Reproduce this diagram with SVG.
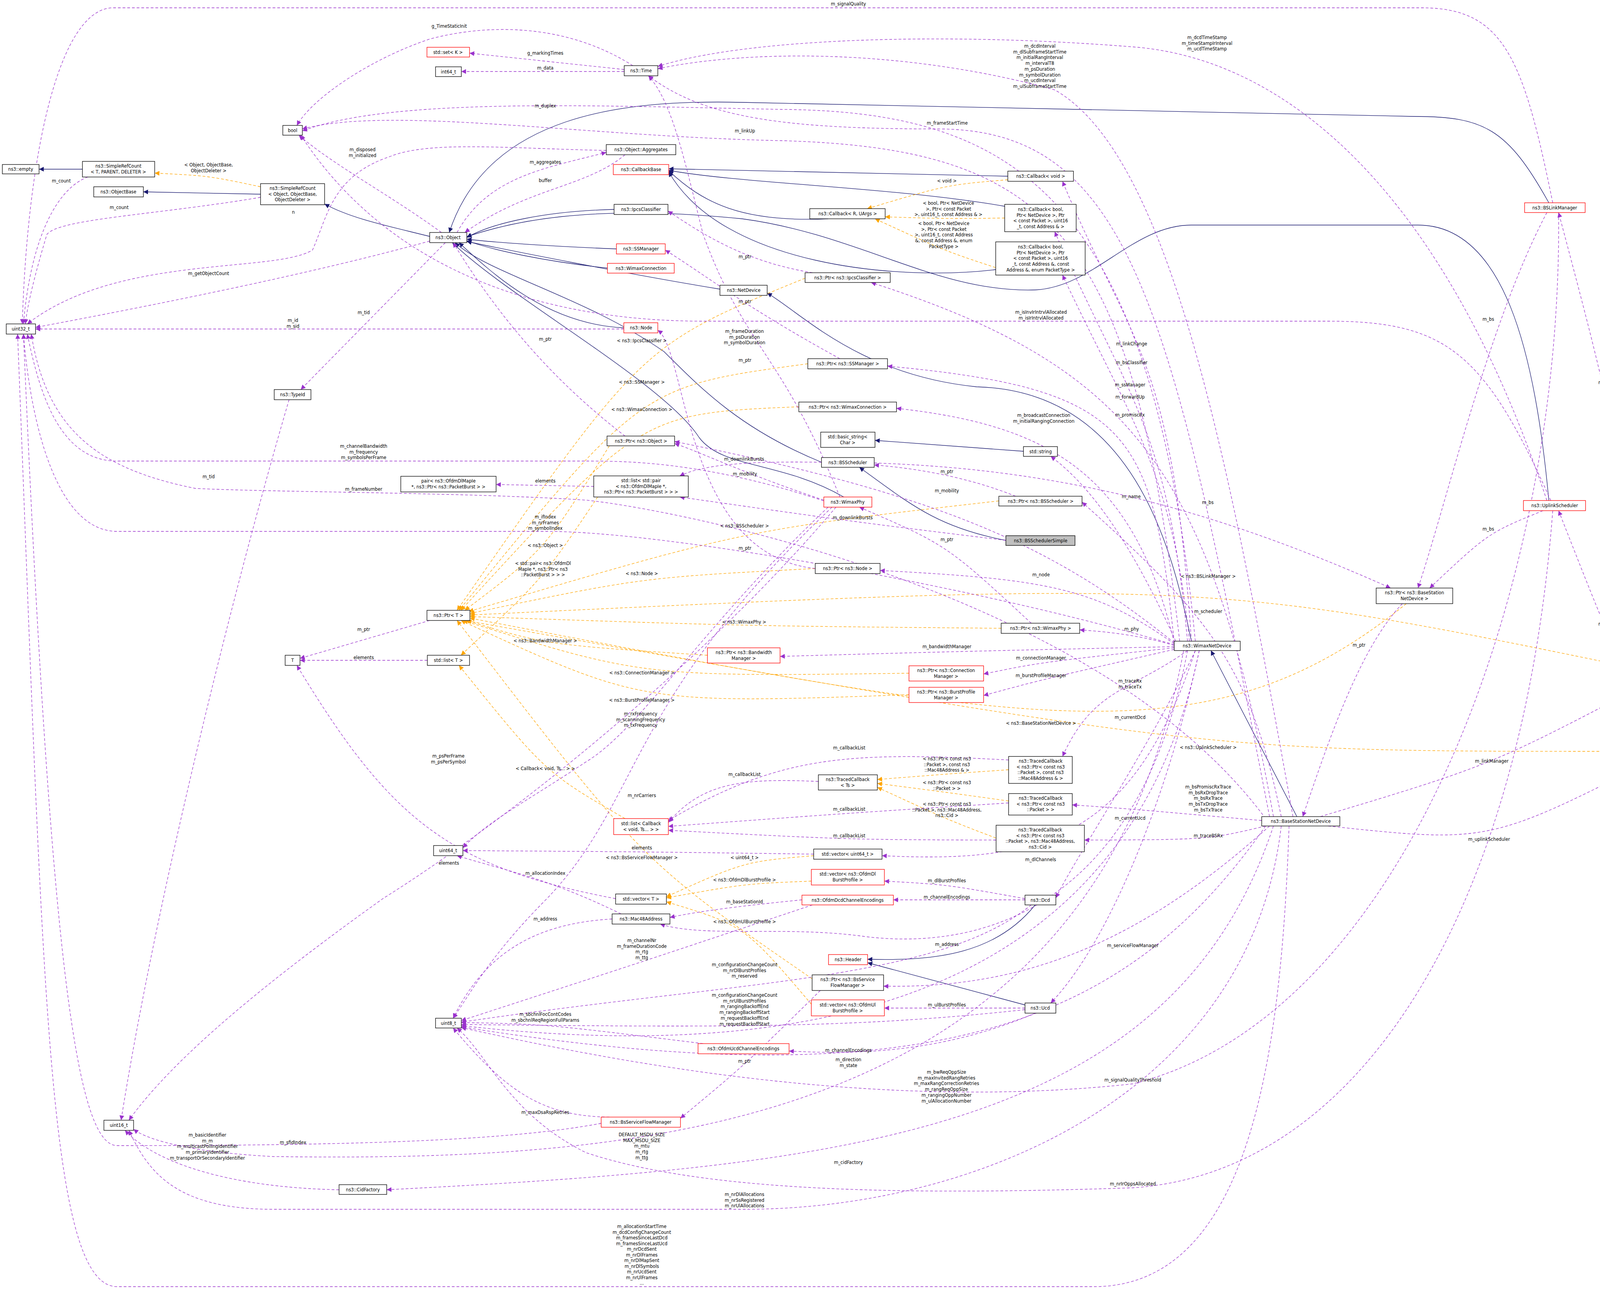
<svg xmlns="http://www.w3.org/2000/svg" width="4387" height="3299" viewBox="0 0 4387 3299">
<style>
text{font-family:"DejaVu Sans Condensed","Liberation Sans",sans-serif;font-size:12.5px;fill:#000}
.nd rect{fill:#fff;stroke:#000;stroke-width:1.3}
.nd.r rect{stroke:#f00}
.nd.g rect{fill:#bfbfbf}
.nd text{text-anchor:middle}
.e path{fill:none;stroke-width:1.3}
.u{stroke:#9a32cd;stroke-dasharray:7,5;marker-end:url(#mu)}
.o{stroke:#ffa500;stroke-dasharray:7,5;marker-end:url(#mo)}
.i{stroke:#191970;marker-end:url(#mi)}
.lb text{text-anchor:middle}
</style>
<defs>
<marker id="mu" viewBox="0 0 10 10" refX="10" refY="5" markerWidth="14" markerHeight="12" markerUnits="userSpaceOnUse" orient="auto"><path d="M0,0L10,5L0,10z" fill="#9a32cd"/></marker>
<marker id="mo" viewBox="0 0 10 10" refX="10" refY="5" markerWidth="14" markerHeight="12" markerUnits="userSpaceOnUse" orient="auto"><path d="M0,0L10,5L0,10z" fill="#ffa500"/></marker>
<marker id="mi" viewBox="0 0 10 10" refX="10" refY="5" markerWidth="14" markerHeight="12" markerUnits="userSpaceOnUse" orient="auto"><path d="M0,0L10,5L0,10z" fill="#191970"/></marker>
</defs>
<rect width="4387" height="3299" fill="#fff"/>
<g id="edges" class="e">
<path class="i" d="M211,433 L100,433"/>
<path class="i" d="M667,497 L367,491"/>
<path class="i" d="M1100,605 C1000,580 900,560 831,522"/>
<path class="i" d="M3965,519 C3860,330 3800,298 3620,298 L1900,262 C1600,255 1250,290 1150,595"/>
<path class="i" d="M3965,1281 C3930,900 3850,576 3630,576 L3050,576 C2900,576 2800,735 2650,742 C2400,750 2200,600 1900,560 C1500,520 1300,570 1195,606"/>
<path class="i" d="M1572,536 C1400,540 1260,570 1195,608"/>
<path class="i" d="M1578,637 C1400,630 1260,620 1195,612"/>
<path class="i" d="M1555,686 C1400,670 1260,640 1195,616"/>
<path class="i" d="M1597,839 C1400,830 1260,700 1175,621"/>
<path class="i" d="M1843,740 C1600,700 1300,640 1195,618"/>
<path class="i" d="M2103,1183 C1900,1100 1800,1000 1700,900 C1500,760 1250,700 1165,621"/>
<path class="i" d="M2160,1272 C2000,1180 1850,1200 1790,1120 C1700,980 1300,760 1158,621"/>
<path class="i" d="M2580,451 L1712,432"/>
<path class="i" d="M2120,560 C1900,570 1800,520 1712,437"/>
<path class="i" d="M2572,528 C2300,480 1900,470 1712,436"/>
<path class="i" d="M2549,690 C2300,720 1850,680 1712,440"/>
<path class="i" d="M3050,1641 C3000,1400 2900,1000 2500,990 C2200,960 2050,800 1964,750"/>
<path class="i" d="M3320,2090 L3100,1665"/>
<path class="i" d="M2620,1155 L2240,1127"/>
<path class="i" d="M2575,1383 C2400,1350 2330,1290 2200,1196"/>
<path class="i" d="M2650,2316 C2550,2440 2400,2460 2221,2455"/>
<path class="i" d="M2624,2572 L2221,2464"/>
<path class="o" d="M667,478 C534,450 534,450 396,443"/>
<path class="o" d="M2580,460 C2424,473 2424,473 2220,534"/>
<path class="o" d="M2572,558 C2428,560 2428,560 2266,555"/>
<path class="o" d="M2549,685 C2416,641 2416,641 2240,560"/>
<path class="o" d="M2061,712 C1643,882 1643,882 1170,1562"/>
<path class="o" d="M2068,931 C1643,988 1643,988 1175,1562"/>
<path class="o" d="M2045,1041 C1643,1058 1643,1058 1180,1562"/>
<path class="o" d="M1560,1141 C1396,1406 1396,1406 1190,1562"/>
<path class="o" d="M2557,1282 C1906,1356 1906,1356 1200,1565"/>
<path class="o" d="M2087,1455 C1643,1478 1643,1478 1203,1570"/>
<path class="o" d="M2563,1608 C1905,1602 1905,1602 1203,1578"/>
<path class="o" d="M1811,1677 C1396,1650 1396,1650 1195,1588"/>
<path class="o" d="M2327,1723 C1643,1732 1643,1732 1185,1588"/>
<path class="o" d="M2327,1778 C1643,1802 1643,1802 1180,1588"/>
<path class="o" d="M3600,1545 C3100,1950 2665,1861 1203,1582"/>
<path class="o" d="M4205,1714 C3093,1485 3093,1485 1203,1574"/>
<path class="o" d="M4142,1923 C3093,1923 3093,1923 1190,1588"/>
<path class="o" d="M2079,2505 C1643,2205 1643,2205 1170,1588"/>
<path class="o" d="M1530,1272 C1390,1481 1390,1481 1180,1677"/>
<path class="o" d="M1600,2095 C1396,1977 1396,1977 1175,1703"/>
<path class="o" d="M2083,2190 C1906,2205 1906,2205 1706,2295"/>
<path class="o" d="M2077,2255 C1906,2262 1906,2262 1706,2298"/>
<path class="o" d="M2077,2570 C1906,2369 1906,2369 1706,2308"/>
<path class="o" d="M2582,1970 C2424,1981 2424,1981 2246,1995"/>
<path class="o" d="M2582,2050 C2424,2028 2424,2028 2246,2005"/>
<path class="o" d="M2550,2145 C2424,2097 2424,2097 2246,2015"/>
<path class="u" d="M3975,519 C3900,150 3850,20 3640,20 L290,20 C150,20 70,400 57,829"/>
<path class="u" d="M1620,168 C1450,60 1250,60 1100,100 C950,150 800,250 760,321"/>
<path class="u" d="M1598,178 L1202,136"/>
<path class="u" d="M1598,183 L1181,183"/>
<path class="u" d="M3310,2090 C3150,1200 3000,400 2700,230 C2300,120 1900,130 1684,176"/>
<path class="u" d="M3960,1281 C3700,500 3300,150 2900,120 C2400,80 1900,100 1684,170"/>
<path class="u" d="M3250,2090 C3000,800 2900,330 2400,330 C2000,330 1800,300 1660,194"/>
<path class="u" d="M3020,1641 C2900,600 2700,380 2000,360 C1500,350 1000,270 774,330"/>
<path class="u" d="M3060,1641 C2950,500 2600,285 2000,280 C1500,270 1000,250 774,335"/>
<path class="u" d="M1130,595 C1000,500 850,420 765,346"/>
<path class="u" d="M1552,385 C1300,380 1100,360 1000,400 C850,450 840,550 800,640 C700,700 300,650 70,829"/>
<path class="u" d="M225,453 C150,480 80,600 60,829"/>
<path class="u" d="M667,505 C400,550 150,560 120,600 C90,700 70,780 65,829"/>
<path class="u" d="M1100,617 C800,700 400,780 91,838"/>
<path class="u" d="M1170,595 C1250,450 1400,430 1552,390"/>
<path class="u" d="M1600,396 C1500,480 1350,480 1190,595"/>
<path class="u" d="M1140,621 L770,997"/>
<path class="u" d="M1597,842 L91,842"/>
<path class="u" d="M1600,1116 C1450,1000 1300,850 1160,621"/>
<path class="u" d="M1100,1588 L768,1685"/>
<path class="u" d="M1094,1690 L768,1690"/>
<path class="u" d="M740,1023 C600,1500 400,2300 310,2867"/>
<path class="u" d="M1520,1245 L1270,1240"/>
<path class="u" d="M2109,1282 C1800,1180 1600,1180 1500,1180 L300,1180 C150,1180 100,1000 70,855"/>
<path class="u" d="M3240,2095 C2800,1500 1700,1300 1500,1280 C1200,1260 700,1260 500,1250 C250,1200 120,1100 80,855"/>
<path class="u" d="M3006,1650 C2500,1500 1700,1360 1400,1360 L300,1360 C150,1360 80,1100 60,855"/>
<path class="u" d="M2140,1298 C1800,1700 1300,2100 980,2300 C700,2500 450,2700 330,2867"/>
<path class="u" d="M2103,1183 C1900,1180 1800,1190 1740,1218"/>
<path class="u" d="M2109,1280 C1900,1210 1800,1160 1727,1135"/>
<path class="u" d="M2600,1270 C2450,1210 2300,1195 2238,1190"/>
<path class="u" d="M3006,1645 C2700,1400 2424,1270 1727,1130"/>
<path class="u" d="M3010,1641 C2900,1400 2800,1250 2690,1168"/>
<path class="u" d="M2575,1383 C2183,1335 2183,1335 1740,1272"/>
<path class="u" d="M2640,1595 C2424,1395 2424,1395 2200,1298"/>
<path class="u" d="M2087,1455 C1750,1420 1760,900 1684,845"/>
<path class="u" d="M3006,1648 C2800,1500 2665,1482 2253,1460"/>
<path class="u" d="M3006,1652 C2900,1620 2800,1615 2764,1612"/>
<path class="u" d="M3006,1655 C2424,1668 2424,1668 1997,1680"/>
<path class="u" d="M3006,1658 C2665,1695 2665,1695 2518,1725"/>
<path class="u" d="M3006,1662 C2665,1740 2665,1740 2518,1780"/>
<path class="u" d="M3040,1665 C2893,1770 2800,1760 2720,1936"/>
<path class="u" d="M3060,1665 C2950,1900 2750,2200 2703,2298"/>
<path class="u" d="M3070,1665 C3000,2000 2850,2400 2690,2567"/>
<path class="u" d="M2582,1945 C2174,1924 2000,1930 1711,2100"/>
<path class="u" d="M2095,2000 C1906,1992 1800,2000 1711,2105"/>
<path class="u" d="M2582,2055 C2174,2081 2174,2081 1711,2115"/>
<path class="u" d="M2550,2150 C2174,2149 2174,2149 1711,2125"/>
<path class="u" d="M2120,1298 C1800,1600 1640,1866 1500,1950 C1350,2050 1250,2100 1185,2170"/>
<path class="u" d="M2130,1298 C1600,1800 1643,2046 1400,2300 C1250,2450 1200,2550 1160,2606"/>
<path class="u" d="M2083,2186 C1643,2180 1643,2180 1185,2177"/>
<path class="u" d="M1576,2300 C1149,2219 1000,2100 760,1703"/>
<path class="u" d="M1590,2339 C1396,2245 1300,2230 1170,2190"/>
<path class="u" d="M1567,2352 C1396,2362 1250,2420 1160,2606"/>
<path class="u" d="M2053,2303 C1906,2318 1800,2330 1715,2348"/>
<path class="u" d="M2624,2300 C2424,2264 2424,2264 2264,2255"/>
<path class="u" d="M2624,2303 L2287,2303"/>
<path class="u" d="M2080,2316 C1643,2462 1643,2462 1181,2612"/>
<path class="u" d="M3040,1665 C2900,2400 2424,2427 2200,2395 C2000,2370 1800,2400 1690,2365"/>
<path class="u" d="M2640,2316 C2400,2510 1906,2509 1181,2616"/>
<path class="u" d="M2624,2584 C2200,2630 1906,2630 1181,2622"/>
<path class="u" d="M3250,2114 C2900,2430 2600,2530 2262,2524"/>
<path class="u" d="M2624,2580 L2264,2580"/>
<path class="u" d="M2650,2593 C2400,2700 2172,2698 2020,2690"/>
<path class="u" d="M2100,2535 C1906,2726 1906,2726 1742,2862"/>
<path class="u" d="M3070,1665 C2900,2500 2172,2737 1181,2625"/>
<path class="u" d="M3240,2114 C2900,2600 2423,2827 1181,2628"/>
<path class="u" d="M3990,544 C4000,1500 3600,2600 2900,2774 C2200,2850 1500,2700 1181,2630"/>
<path class="u" d="M1800,2671 C1396,2621 1396,2621 1181,2617"/>
<path class="u" d="M1560,2859 C1396,2857 1300,2800 1160,2631"/>
<path class="u" d="M3030,1665 C2800,2900 1643,2973 700,2960 C500,2950 380,2920 342,2890"/>
<path class="u" d="M3260,2114 C3000,2900 2172,2985 990,3045"/>
<path class="u" d="M868,3045 C600,3040 400,2980 320,2893"/>
<path class="u" d="M1539,2875 C1300,2920 900,2932 300,2932 C200,2932 130,2500 60,855"/>
<path class="u" d="M3975,1307 C3900,2300 3500,3000 2900,3040 C2300,3060 1800,3050 1500,2950 C1300,2850 1250,2700 1170,2631"/>
<path class="u" d="M3280,2114 C3200,2800 2500,3095 1906,3095 L700,3095 C450,3095 380,3000 330,2893"/>
<path class="u" d="M3300,2114 C3280,2700 3200,3293 2800,3293 L300,3293 C120,3293 110,2500 45,855"/>
<path class="u" d="M2150,1272 C2000,900 1906,890 1800,600 C1750,400 1720,260 1660,194"/>
<path class="u" d="M2080,698 C1907,670 1800,600 1710,540"/>
<path class="u" d="M2150,918 C1907,785 1800,700 1703,640"/>
<path class="u" d="M3970,1281 C3800,900 3700,822 3400,822 L1800,822 C1400,822 1000,700 770,346"/>
<path class="u" d="M3050,1641 C3000,900 2897,890 2720,464"/>
<path class="u" d="M3260,2090 C3100,1200 2897,938 2230,723"/>
<path class="u" d="M3006,1645 C2950,1100 2893,995 2272,937"/>
<path class="u" d="M3040,1641 C2990,1100 2893,1026 2700,593"/>
<path class="u" d="M3045,1641 C3000,1200 2893,1072 2720,704"/>
<path class="u" d="M3006,1645 C2900,1200 2672,1087 2295,1045"/>
<path class="u" d="M2238,1185 C2700,1200 3092,1296 3560,1505"/>
<path class="u" d="M3950,1307 C3810,1364 3810,1364 3660,1505"/>
<path class="u" d="M3960,544 C3810,827 3700,1300 3630,1505"/>
<path class="u" d="M3280,2090 C3200,1700 3093,1575 2770,1285"/>
<path class="u" d="M3590,1545 C3479,1661 3400,1900 3335,2090"/>
<path class="u" d="M4245,1911 C4108,1607 4108,1607 3990,1307"/>
<path class="u" d="M4257,1714 C4108,989 4108,989 3990,544"/>
<path class="u" d="M3380,2090 C3819,1958 3819,1958 4235,1739"/>
<path class="u" d="M3230,2100 C3000,2080 2900,2070 2745,2060"/>
<path class="u" d="M3240,2114 C3093,2149 3093,2149 2776,2150"/>
<path class="u" d="M3400,2114 C3812,2158 3812,2158 4248,1936"/>
<path class="u" d="M3060,1665 C2900,2150 2664,2210 2258,2190"/>
</g>
<g id="labels" class="lb">
<text x="2172" y="14">m_signalQuality</text>
<text x="1150" y="71">g_TimeStaticInit</text>
<text x="1396" y="140">g_markingTimes</text>
<text x="1396" y="178">m_data</text>
<text x="2662" y="122"><tspan x="2662">m_dcdInterval</tspan><tspan x="2662" dy="14.7">m_dlSubframeStartTime</tspan><tspan x="2662" dy="14.7">m_initialRangInterval</tspan><tspan x="2662" dy="14.7">m_intervalT8</tspan><tspan x="2662" dy="14.7">m_psDuration</tspan><tspan x="2662" dy="14.7">m_symbolDuration</tspan><tspan x="2662" dy="14.7">m_ucdInterval</tspan><tspan x="2662" dy="14.7">m_ulSubframeStartTime</tspan></text>
<text x="3090" y="100"><tspan x="3090">m_dcdTimeStamp</tspan><tspan x="3090" dy="14.7">m_timeStampIrInterval</tspan><tspan x="3090" dy="14.7">m_ucdTimeStamp</tspan></text>
<text x="2425" y="319">m_frameStartTime</text>
<text x="1907" y="339">m_linkUp</text>
<text x="1396" y="275">m_duplex</text>
<text x="928" y="387"><tspan x="928">m_disposed</tspan><tspan x="928" dy="14.7">m_initialized</tspan></text>
<text x="751" y="547">n</text>
<text x="157" y="467">m_count</text>
<text x="305" y="535">m_count</text>
<text x="534" y="426"><tspan x="534">&lt; Object, ObjectBase,</tspan><tspan x="534" dy="14.7">ObjectDeleter &gt;</tspan></text>
<text x="534" y="704">m_getObjectCount</text>
<text x="1396" y="419">m_aggregates</text>
<text x="1396" y="466">buffer</text>
<text x="931" y="804">m_tid</text>
<text x="750" y="824"><tspan x="750">m_id</tspan><tspan x="750" dy="14.7">m_sid</tspan></text>
<text x="1396" y="872">m_ptr</text>
<text x="2424" y="467">&lt; void &gt;</text>
<text x="2428" y="524"><tspan x="2428">&lt; bool, Ptr&lt; NetDevice</tspan><tspan x="2428" dy="14.7">&gt;, Ptr&lt; const Packet</tspan><tspan x="2428" dy="14.7">&gt;, uint16_t, const Address &amp; &gt;</tspan></text>
<text x="2416" y="576"><tspan x="2416">&lt; bool, Ptr&lt; NetDevice</tspan><tspan x="2416" dy="14.7">&gt;, Ptr&lt; const Packet</tspan><tspan x="2416" dy="14.7">&gt;, uint16_t, const Address</tspan><tspan x="2416" dy="14.7">&amp;, const Address &amp;, enum</tspan><tspan x="2416" dy="14.7">PacketType &gt;</tspan></text>
<text x="1907" y="661">m_ptr</text>
<text x="1907" y="776">m_ptr</text>
<text x="2665" y="803"><tspan x="2665">m_isInvIrIntrvlAllocated</tspan><tspan x="2665" dy="14.7">m_isIrIntrvlAllocated</tspan></text>
<text x="1643" y="876">&lt; ns3::IpcsClassifier &gt;</text>
<text x="1906" y="852"><tspan x="1906">m_frameDuration</tspan><tspan x="1906" dy="14.7">m_psDuration</tspan><tspan x="1906" dy="14.7">m_symbolDuration</tspan></text>
<text x="1907" y="926">m_ptr</text>
<text x="1643" y="982">&lt; ns3::SSManager &gt;</text>
<text x="1643" y="1052">&lt; ns3::WimaxConnection &gt;</text>
<text x="2897" y="884">m_linkChange</text>
<text x="2897" y="932">m_bsClassifier</text>
<text x="2893" y="989">m_ssManager</text>
<text x="2893" y="1020">m_forwardUp</text>
<text x="2893" y="1066">m_promiscRx</text>
<text x="2672" y="1067"><tspan x="2672">m_broadcastConnection</tspan><tspan x="2672" dy="14.7">m_initialRangingConnection</tspan></text>
<text x="3810" y="821">m_bs</text>
<text x="4108" y="983">m_ptr</text>
<text x="931" y="1146"><tspan x="931">m_channelBandwidth</tspan><tspan x="931" dy="14.7">m_frequency</tspan><tspan x="931" dy="14.7">m_symbolsPerFrame</tspan></text>
<text x="534" y="1224">m_tid</text>
<text x="931" y="1256">m_frameNumber</text>
<text x="1396" y="1327"><tspan x="1396">m_ifIndex</tspan><tspan x="1396" dy="14.7">m_nrFrames</tspan><tspan x="1396" dy="14.7">m_symbolIndex</tspan></text>
<text x="1396" y="1400">&lt; ns3::Object &gt;</text>
<text x="1390" y="1446"><tspan x="1390">&lt; std::pair&lt; ns3::OfdmDl</tspan><tspan x="1390" dy="14.7">MapIe *, ns3::Ptr&lt; ns3</tspan><tspan x="1390" dy="14.7">::PacketBurst &gt; &gt; &gt;</tspan></text>
<text x="1396" y="1235">elements</text>
<text x="931" y="1615">m_ptr</text>
<text x="931" y="1687">elements</text>
<text x="1396" y="1644">&lt; ns3::BandwidthManager &gt;</text>
<text x="1148" y="1939"><tspan x="1148">m_psPerFrame</tspan><tspan x="1148" dy="14.7">m_psPerSymbol</tspan></text>
<text x="1396" y="1971">&lt; Callback&lt; void, Ts... &gt; &gt;</text>
<text x="1905" y="1179">m_downlinkBursts</text>
<text x="1907" y="1217">m_mobility</text>
<text x="2424" y="1211">m_ptr</text>
<text x="2424" y="1260">m_mobility</text>
<text x="2896" y="1275">m_name</text>
<text x="2183" y="1329">m_downlinkBursts</text>
<text x="1906" y="1350">&lt; ns3::BSScheduler &gt;</text>
<text x="2424" y="1385">m_ptr</text>
<text x="1907" y="1407">m_ptr</text>
<text x="1643" y="1472">&lt; ns3::Node &gt;</text>
<text x="2665" y="1475">m_node</text>
<text x="1905" y="1596">&lt; ns3::WimaxPhy &gt;</text>
<text x="2897" y="1614">m_phy</text>
<text x="2424" y="1659">m_bandwidthManager</text>
<text x="2665" y="1688">m_connectionManager</text>
<text x="2665" y="1733">m_burstProfileManager</text>
<text x="1643" y="1726">&lt; ns3::ConnectionManager &gt;</text>
<text x="1643" y="1796">&lt; ns3::BurstProfileManager &gt;</text>
<text x="2893" y="1747"><tspan x="2893">m_traceRx</tspan><tspan x="2893" dy="14.7">m_traceTx</tspan></text>
<text x="1640" y="1831"><tspan x="1640">m_rxFrequency</tspan><tspan x="1640" dy="14.7">m_scanningFrequency</tspan><tspan x="1640" dy="14.7">m_txFrequency</tspan></text>
<text x="2893" y="1840">m_currentDcd</text>
<text x="2665" y="1855">&lt; ns3::BaseStationNetDevice &gt;</text>
<text x="2174" y="1918">m_callbackList</text>
<text x="2424" y="1946"><tspan x="2424">&lt; ns3::Ptr&lt; const ns3</tspan><tspan x="2424" dy="14.7">::Packet &gt;, const ns3</tspan><tspan x="2424" dy="14.7">::Mac48Address &amp; &gt;</tspan></text>
<text x="1906" y="1986">m_callbackList</text>
<text x="2424" y="2007"><tspan x="2424">&lt; ns3::Ptr&lt; const ns3</tspan><tspan x="2424" dy="14.7">::Packet &gt; &gt;</tspan></text>
<text x="1643" y="2040">m_nrCarriers</text>
<text x="2424" y="2062"><tspan x="2424">&lt; ns3::Ptr&lt; const ns3</tspan><tspan x="2424" dy="14.7">::Packet &gt;, ns3::Mac48Address,</tspan><tspan x="2424" dy="14.7">ns3::Cid &gt;</tspan></text>
<text x="2174" y="2075">m_callbackList</text>
<text x="2893" y="2098">m_currentUcd</text>
<text x="2174" y="2143">m_callbackList</text>
<text x="1643" y="2174">elements</text>
<text x="1643" y="2199">&lt; ns3::BsServiceFlowManager &gt;</text>
<text x="1906" y="2199">&lt; uint64_t &gt;</text>
<text x="2664" y="2204">m_dlChannels</text>
<text x="3092" y="1290">m_bs</text>
<text x="3810" y="1358">m_bs</text>
<text x="3093" y="1479">&lt; ns3::BSLinkManager &gt;</text>
<text x="3093" y="1569">m_scheduler</text>
<text x="3479" y="1655">m_ptr</text>
<text x="4108" y="1601">m_ptr</text>
<text x="3093" y="1917">&lt; ns3::UplinkScheduler &gt;</text>
<text x="3819" y="1952">m_linkManager</text>
<text x="3093" y="2018"><tspan x="3093">m_bsPromiscRxTrace</tspan><tspan x="3093" dy="14.7">m_bsRxDropTrace</tspan><tspan x="3093" dy="14.7">m_bsRxTrace</tspan><tspan x="3093" dy="14.7">m_bsTxDropTrace</tspan><tspan x="3093" dy="14.7">m_bsTxTrace</tspan></text>
<text x="3093" y="2143">m_traceBSRx</text>
<text x="3812" y="2152">m_uplinkScheduler</text>
<text x="1149" y="2213">elements</text>
<text x="1396" y="2239">m_allocationIndex</text>
<text x="1396" y="2356">m_address</text>
<text x="1396" y="2600"><tspan x="1396">m_sbchnlFocContCodes</tspan><tspan x="1396" dy="14.7">m_sbchnlReqRegionFullParams</tspan></text>
<text x="1396" y="2851">m_maxDsaRspRetries</text>
<text x="531" y="2909"><tspan x="531">m_basicIdentifier</tspan><tspan x="531" dy="14.7">m_m</tspan><tspan x="531" dy="14.7">m_multicastPollingIdentifier</tspan><tspan x="531" dy="14.7">m_primaryIdentifier</tspan><tspan x="531" dy="14.7">m_transportOrSecondaryIdentifier</tspan></text>
<text x="750" y="2928">m_sfidIndex</text>
<text x="1906" y="2256">&lt; ns3::OfdmDlBurstProfile &gt;</text>
<text x="2424" y="2258">m_dlBurstProfiles</text>
<text x="2424" y="2300">m_channelEncodings</text>
<text x="1906" y="2312">m_baseStationId</text>
<text x="1906" y="2363">&lt; ns3::OfdmUlBurstProfile &gt;</text>
<text x="1643" y="2411"><tspan x="1643">m_channelNr</tspan><tspan x="1643" dy="14.7">m_frameDurationCode</tspan><tspan x="1643" dy="14.7">m_rtg</tspan><tspan x="1643" dy="14.7">m_ttg</tspan></text>
<text x="2424" y="2421">m_address</text>
<text x="1906" y="2473"><tspan x="1906">m_configurationChangeCount</tspan><tspan x="1906" dy="14.7">m_nrDlBurstProfiles</tspan><tspan x="1906" dy="14.7">m_reserved</tspan></text>
<text x="1906" y="2551"><tspan x="1906">m_configurationChangeCount</tspan><tspan x="1906" dy="14.7">m_nrUlBurstProfiles</tspan><tspan x="1906" dy="14.7">m_rangingBackoffEnd</tspan><tspan x="1906" dy="14.7">m_rangingBackoffStart</tspan><tspan x="1906" dy="14.7">m_requestBackoffEnd</tspan><tspan x="1906" dy="14.7">m_requestBackoffStart</tspan></text>
<text x="2900" y="2424">m_serviceFlowManager</text>
<text x="2424" y="2576">m_ulBurstProfiles</text>
<text x="2172" y="2692">m_channelEncodings</text>
<text x="1906" y="2720">m_ptr</text>
<text x="2172" y="2716"><tspan x="2172">m_direction</tspan><tspan x="2172" dy="14.7">m_state</tspan></text>
<text x="2423" y="2748"><tspan x="2423">m_bwReqOppSize</tspan><tspan x="2423" dy="14.7">m_maxInvitedRangRetries</tspan><tspan x="2423" dy="14.7">m_maxRangCorrectionRetries</tspan><tspan x="2423" dy="14.7">m_rangReqOppSize</tspan><tspan x="2423" dy="14.7">m_rangingOppNumber</tspan><tspan x="2423" dy="14.7">m_ulAllocationNumber</tspan></text>
<text x="2900" y="2768">m_signalQualityThreshold</text>
<text x="1643" y="2908"><tspan x="1643">DEFAULT_MSDU_SIZE</tspan><tspan x="1643" dy="14.7">MAX_MSDU_SIZE</tspan><tspan x="1643" dy="14.7">m_mtu</tspan><tspan x="1643" dy="14.7">m_rtg</tspan><tspan x="1643" dy="14.7">m_ttg</tspan></text>
<text x="2172" y="2979">m_cidFactory</text>
<text x="2900" y="3034">m_nrIrOppsAllocated</text>
<text x="1906" y="3061"><tspan x="1906">m_nrDlAllocations</tspan><tspan x="1906" dy="14.7">m_nrSsRegistered</tspan><tspan x="1906" dy="14.7">m_nrUlAllocations</tspan></text>
<text x="1643" y="3143"><tspan x="1643">m_allocationStartTime</tspan><tspan x="1643" dy="14.5">m_dcdConfigChangeCount</tspan><tspan x="1643" dy="14.5">m_framesSinceLastDcd</tspan><tspan x="1643" dy="14.5">m_framesSinceLastUcd</tspan><tspan x="1643" dy="14.5">m_nrDcdSent</tspan><tspan x="1643" dy="14.5">m_nrDlFrames</tspan><tspan x="1643" dy="14.5">m_nrDlMapSent</tspan><tspan x="1643" dy="14.5">m_nrDlSymbols</tspan><tspan x="1643" dy="14.5">m_nrUcdSent</tspan><tspan x="1643" dy="14.5">m_nrUlFrames</tspan><tspan x="1643" dy="14.5">...</tspan></text>
</g>
<g id="n_empty" class="nd"><rect x="6" y="421" width="94" height="24"/><text x="53" y="437">ns3::empty</text></g>
<g id="n_srct" class="nd"><rect x="211" y="413" width="185" height="40"/><text x="303" y="429"><tspan x="303">ns3::SimpleRefCount</tspan><tspan x="303" dy="14.7">&lt; T, PARENT, DELETER &gt;</tspan></text></g>
<g id="n_objectbase" class="nd"><rect x="240" y="478" width="127" height="26"/><text x="303" y="495">ns3::ObjectBase</text></g>
<g id="n_srco" class="nd"><rect x="667" y="470" width="164" height="54"/><text x="749" y="486"><tspan x="749">ns3::SimpleRefCount</tspan><tspan x="749" dy="14.7">&lt; Object, ObjectBase,</tspan><tspan x="749" dy="14.7">ObjectDeleter &gt;</tspan></text></g>
<g id="n_bool" class="nd"><rect x="724" y="321" width="50" height="25"/><text x="749" y="338">bool</text></g>
<g id="n_object" class="nd"><rect x="1100" y="595" width="95" height="26"/><text x="1147" y="612">ns3::Object</text></g>
<g id="n_uint32" class="nd"><rect x="16" y="829" width="75" height="26"/><text x="53" y="846">uint32_t</text></g>
<g id="n_typeid" class="nd"><rect x="702" y="997" width="94" height="26"/><text x="749" y="1014">ns3::TypeId</text></g>
<g id="n_setk" class="nd r"><rect x="1093" y="121" width="109" height="25"/><text x="1147" y="138">std::set&lt; K &gt;</text></g>
<g id="n_int64" class="nd"><rect x="1115" y="171" width="66" height="25"/><text x="1148" y="188">int64_t</text></g>
<g id="n_time" class="nd"><rect x="1598" y="168" width="86" height="26"/><text x="1641" y="185">ns3::Time</text></g>
<g id="n_aggregates" class="nd"><rect x="1552" y="370" width="178" height="26"/><text x="1641" y="387">ns3::Object::Aggregates</text></g>
<g id="n_callbackbase" class="nd r"><rect x="1570" y="421" width="142" height="26"/><text x="1641" y="438">ns3::CallbackBase</text></g>
<g id="n_ipcs" class="nd"><rect x="1572" y="523" width="138" height="26"/><text x="1641" y="540">ns3::IpcsClassifier</text></g>
<g id="n_ssmanager" class="nd r"><rect x="1578" y="624" width="125" height="26"/><text x="1641" y="641">ns3::SSManager</text></g>
<g id="n_wimaxconn" class="nd r"><rect x="1555" y="674" width="171" height="25"/><text x="1641" y="691">ns3::WimaxConnection</text></g>
<g id="n_netdevice" class="nd"><rect x="1843" y="730" width="121" height="26"/><text x="1904" y="747">ns3::NetDevice</text></g>
<g id="n_node" class="nd r"><rect x="1597" y="826" width="87" height="26"/><text x="1641" y="843">ns3::Node</text></g>
<g id="n_cbvoid" class="nd"><rect x="2580" y="438" width="168" height="26"/><text x="2664" y="455">ns3::Callback&lt; void &gt;</text></g>
<g id="n_cbr" class="nd"><rect x="2073" y="534" width="193" height="26"/><text x="2170" y="551">ns3::Callback&lt; R, UArgs &gt;</text></g>
<g id="n_cbboola" class="nd"><rect x="2572" y="523" width="183" height="70"/><text x="2664" y="540"><tspan x="2664">ns3::Callback&lt; bool,</tspan><tspan x="2664" dy="14.7">Ptr&lt; NetDevice &gt;, Ptr</tspan><tspan x="2664" dy="14.7">&lt; const Packet &gt;, uint16</tspan><tspan x="2664" dy="14.7">_t, const Address &amp; &gt;</tspan></text></g>
<g id="n_cbboolp" class="nd"><rect x="2549" y="619" width="229" height="85"/><text x="2664" y="636"><tspan x="2664">ns3::Callback&lt; bool,</tspan><tspan x="2664" dy="14.7">Ptr&lt; NetDevice &gt;, Ptr</tspan><tspan x="2664" dy="14.7">&lt; const Packet &gt;, uint16</tspan><tspan x="2664" dy="14.7">_t, const Address &amp;, const</tspan><tspan x="2664" dy="14.7">Address &amp;, enum PacketType &gt;</tspan></text></g>
<g id="n_ptripcs" class="nd"><rect x="2061" y="698" width="218" height="25"/><text x="2170" y="715">ns3::Ptr&lt; ns3::IpcsClassifier &gt;</text></g>
<g id="n_ptrss" class="nd"><rect x="2068" y="918" width="204" height="26"/><text x="2170" y="935">ns3::Ptr&lt; ns3::SSManager &gt;</text></g>
<g id="n_ptrwc" class="nd"><rect x="2045" y="1029" width="250" height="25"/><text x="2170" y="1046">ns3::Ptr&lt; ns3::WimaxConnection &gt;</text></g>
<g id="n_bslinkmgr" class="nd r"><rect x="3903" y="519" width="155" height="25"/><text x="3980" y="536">ns3::BSLinkManager</text></g>
<g id="n_pair" class="nd"><rect x="1026" y="1219" width="244" height="40"/><text x="1148" y="1235"><tspan x="1148">pair&lt; ns3::OfdmDlMapIe</tspan><tspan x="1148" dy="14.7">*, ns3::Ptr&lt; ns3::PacketBurst &gt; &gt;</tspan></text></g>
<g id="n_ptrt" class="nd"><rect x="1093" y="1562" width="110" height="26"/><text x="1148" y="1579">ns3::Ptr&lt; T &gt;</text></g>
<g id="n_t" class="nd"><rect x="730" y="1677" width="38" height="26"/><text x="749" y="1694">T</text></g>
<g id="n_listt" class="nd"><rect x="1094" y="1677" width="108" height="26"/><text x="1148" y="1694">std::list&lt; T &gt;</text></g>
<g id="n_uint64" class="nd"><rect x="1110" y="2164" width="75" height="26"/><text x="1147" y="2181">uint64_t</text></g>
<g id="n_ptrobj" class="nd"><rect x="1554" y="1116" width="173" height="25"/><text x="1641" y="1133">ns3::Ptr&lt; ns3::Object &gt;</text></g>
<g id="n_basicstring" class="nd"><rect x="2101" y="1106" width="139" height="39"/><text x="2170" y="1122"><tspan x="2170">std::basic_string&lt;</tspan><tspan x="2170" dy="14.7">Char &gt;</tspan></text></g>
<g id="n_string" class="nd"><rect x="2620" y="1143" width="87" height="25"/><text x="2664" y="1160">std::string</text></g>
<g id="n_bssched" class="nd"><rect x="2103" y="1171" width="135" height="25"/><text x="2170" y="1188">ns3::BSScheduler</text></g>
<g id="n_listpair" class="nd"><rect x="1520" y="1218" width="242" height="54"/><text x="1641" y="1234"><tspan x="1641">std::list&lt; std::pair</tspan><tspan x="1641" dy="14.7">&lt; ns3::OfdmDlMapIe *,</tspan><tspan x="1641" dy="14.7">ns3::Ptr&lt; ns3::PacketBurst &gt; &gt; &gt;</tspan></text></g>
<g id="n_wimaxphy" class="nd r"><rect x="2109" y="1272" width="123" height="26"/><text x="2170" y="1289">ns3::WimaxPhy</text></g>
<g id="n_ptrbss" class="nd"><rect x="2557" y="1270" width="213" height="25"/><text x="2664" y="1287">ns3::Ptr&lt; ns3::BSScheduler &gt;</text></g>
<g id="n_bsss" class="nd g"><rect x="2575" y="1371" width="177" height="25"/><text x="2664" y="1388">ns3::BSSchedulerSimple</text></g>
<g id="n_ptrnode" class="nd"><rect x="2087" y="1442" width="166" height="26"/><text x="2170" y="1459">ns3::Ptr&lt; ns3::Node &gt;</text></g>
<g id="n_ptrphy" class="nd"><rect x="2563" y="1595" width="201" height="26"/><text x="2664" y="1612">ns3::Ptr&lt; ns3::WimaxPhy &gt;</text></g>
<g id="n_ptrbw" class="nd r"><rect x="1811" y="1658" width="186" height="39"/><text x="1904" y="1674"><tspan x="1904">ns3::Ptr&lt; ns3::Bandwidth</tspan><tspan x="1904" dy="14.7">Manager &gt;</tspan></text></g>
<g id="n_ptrcm" class="nd r"><rect x="2327" y="1704" width="191" height="39"/><text x="2422" y="1720"><tspan x="2422">ns3::Ptr&lt; ns3::Connection</tspan><tspan x="2422" dy="14.7">Manager &gt;</tspan></text></g>
<g id="n_ptrbpm" class="nd r"><rect x="2327" y="1759" width="191" height="39"/><text x="2422" y="1775"><tspan x="2422">ns3::Ptr&lt; ns3::BurstProfile</tspan><tspan x="2422" dy="14.7">Manager &gt;</tspan></text></g>
<g id="n_tcts" class="nd"><rect x="2095" y="1983" width="151" height="39"/><text x="2170" y="1999"><tspan x="2170">ns3::TracedCallback</tspan><tspan x="2170" dy="14.7">&lt; Ts &gt;</tspan></text></g>
<g id="n_tcmac" class="nd"><rect x="2582" y="1936" width="163" height="69"/><text x="2664" y="1952"><tspan x="2664">ns3::TracedCallback</tspan><tspan x="2664" dy="14.7">&lt; ns3::Ptr&lt; const ns3</tspan><tspan x="2664" dy="14.7">::Packet &gt;, const ns3</tspan><tspan x="2664" dy="14.7">::Mac48Address &amp; &gt;</tspan></text></g>
<g id="n_tcpkt" class="nd"><rect x="2582" y="2031" width="163" height="55"/><text x="2664" y="2047"><tspan x="2664">ns3::TracedCallback</tspan><tspan x="2664" dy="14.7">&lt; ns3::Ptr&lt; const ns3</tspan><tspan x="2664" dy="14.7">::Packet &gt; &gt;</tspan></text></g>
<g id="n_tccid" class="nd"><rect x="2550" y="2112" width="226" height="68"/><text x="2663" y="2128"><tspan x="2663">ns3::TracedCallback</tspan><tspan x="2663" dy="14.7">&lt; ns3::Ptr&lt; const ns3</tspan><tspan x="2663" dy="14.7">::Packet &gt;, ns3::Mac48Address,</tspan><tspan x="2663" dy="14.7">ns3::Cid &gt;</tspan></text></g>
<g id="n_listcb" class="nd r"><rect x="1571" y="2095" width="140" height="41"/><text x="1641" y="2112"><tspan x="1641">std::list&lt; Callback</tspan><tspan x="1641" dy="14.7">&lt; void, Ts... &gt; &gt;</tspan></text></g>
<g id="n_vecu64" class="nd"><rect x="2083" y="2173" width="175" height="26"/><text x="2170" y="2190">std::vector&lt; uint64_t &gt;</text></g>
<g id="n_uplinksched" class="nd r"><rect x="3900" y="1281" width="159" height="26"/><text x="3980" y="1298">ns3::UplinkScheduler</text></g>
<g id="n_ptrbsnd" class="nd"><rect x="3523" y="1505" width="196" height="40"/><text x="3621" y="1521"><tspan x="3621">ns3::Ptr&lt; ns3::BaseStation</tspan><tspan x="3621" dy="14.7">NetDevice &gt;</tspan></text></g>
<g id="n_wnd" class="nd"><rect x="3006" y="1641" width="169" height="24"/><text x="3090" y="1657">ns3::WimaxNetDevice</text></g>
<g id="n_ptrbslm" class="nd"><rect x="4145" y="1714" width="232" height="25"/><text x="4261" y="1731">ns3::Ptr&lt; ns3::BSLinkManager &gt;</text></g>
<g id="n_ptrus" class="nd"><rect x="4142" y="1911" width="238" height="25"/><text x="4261" y="1928">ns3::Ptr&lt; ns3::UplinkScheduler &gt;</text></g>
<g id="n_bsnd" class="nd"><rect x="3230" y="2090" width="200" height="24"/><text x="3330" y="2106">ns3::BaseStationNetDevice</text></g>
<g id="n_uint8" class="nd"><rect x="1115" y="2606" width="66" height="25"/><text x="1148" y="2623">uint8_t</text></g>
<g id="n_uint16" class="nd"><rect x="266" y="2867" width="76" height="26"/><text x="304" y="2884">uint16_t</text></g>
<g id="n_cidfactory" class="nd"><rect x="868" y="3032" width="122" height="25"/><text x="929" y="3049">ns3::CidFactory</text></g>
<g id="n_vecdl" class="nd r"><rect x="2077" y="2225" width="187" height="40"/><text x="2170" y="2241"><tspan x="2170">std::vector&lt; ns3::OfdmDl</tspan><tspan x="2170" dy="14.7">BurstProfile &gt;</tspan></text></g>
<g id="n_vect" class="nd"><rect x="1576" y="2288" width="130" height="26"/><text x="1641" y="2305">std::vector&lt; T &gt;</text></g>
<g id="n_dcdenc" class="nd r"><rect x="2053" y="2291" width="234" height="25"/><text x="2170" y="2308">ns3::OfdmDcdChannelEncodings</text></g>
<g id="n_dcd" class="nd"><rect x="2624" y="2291" width="79" height="25"/><text x="2663" y="2308">ns3::Dcd</text></g>
<g id="n_mac48" class="nd"><rect x="1567" y="2339" width="148" height="26"/><text x="1641" y="2356">ns3::Mac48Address</text></g>
<g id="n_header" class="nd r"><rect x="2121" y="2443" width="100" height="26"/><text x="2171" y="2460">ns3::Header</text></g>
<g id="n_ptrbssfm" class="nd"><rect x="2079" y="2495" width="183" height="40"/><text x="2170" y="2511"><tspan x="2170">ns3::Ptr&lt; ns3::BsService</tspan><tspan x="2170" dy="14.7">FlowManager &gt;</tspan></text></g>
<g id="n_vecul" class="nd r"><rect x="2077" y="2559" width="187" height="41"/><text x="2170" y="2576"><tspan x="2170">std::vector&lt; ns3::OfdmUl</tspan><tspan x="2170" dy="14.7">BurstProfile &gt;</tspan></text></g>
<g id="n_ucd" class="nd"><rect x="2624" y="2567" width="79" height="26"/><text x="2663" y="2584">ns3::Ucd</text></g>
<g id="n_ucdenc" class="nd r"><rect x="1787" y="2671" width="233" height="26"/><text x="1903" y="2688">ns3::OfdmUcdChannelEncodings</text></g>
<g id="n_bssfm" class="nd r"><rect x="1539" y="2859" width="203" height="26"/><text x="1640" y="2876">ns3::BsServiceFlowManager</text></g>
</svg>
